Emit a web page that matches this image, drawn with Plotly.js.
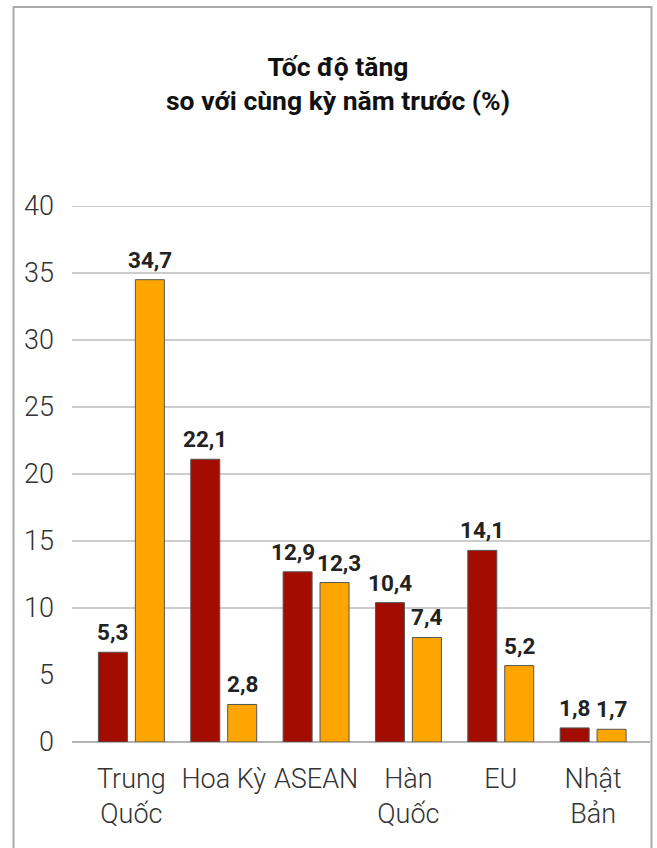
<!DOCTYPE html>
<html>
<head>
<meta charset="utf-8">
<script src="https://cdn.plot.ly/plotly-3.0.1.min.js"></script>
<style>html,body{margin:0;padding:0;background:#fff;}#chart{width:657px;height:848px;}</style>
</head>
<body>
<div id="chart"></div>
<script>
// ---- data ----
var categories = ["Trung Quốc", "Hoa Kỳ", "ASEAN", "Hàn Quốc", "EU", "Nhật Bản"];
var tickLabels = ["Trung<br>Quốc", "Hoa Kỳ", "ASEAN", "Hàn<br>Quốc", "EU", "Nhật<br>Bản"];
var redValues = [6.7, 21.1, 12.7, 10.4, 14.3, 1.05];
var orangeValues = [34.5, 2.8, 11.9, 7.8, 5.7, 0.95];
var redLabels = ["5,3", "22,1", "12,9", "10,4", "14,1", "1,8"];
var orangeLabels = ["34,7", "2,8", "12,3", "7,4", "5,2", "1,7"];
var gridValues = [10, 15, 20, 25, 30, 35, 40];
var yTicks = [0, 5, 10, 15, 20, 25, 30, 35, 40];

// ---- styles ----
var RED = "#A30D00", ORANGE = "#FFA500";
var BAR_W = 0.314, RED_OFF = -0.357, OR_OFF = 0.043;
var redXShift = [0, 0, -5, 0, 0, 0];
var orangeXShift = [0, 0, 4, 0, 0, 0];

var traces = [
  {type: "bar", x: categories, y: redValues, width: BAR_W, offset: RED_OFF,
   marker: {color: RED, line: {color: "#555", width: 1}}, hoverinfo: "none"},
  {type: "bar", x: categories, y: orangeValues, width: BAR_W, offset: OR_OFF,
   marker: {color: ORANGE, line: {color: "#555", width: 1}}, hoverinfo: "none"}
];

var annotations = [];
var labelFont = {family: "Roboto", size: 22.5, weight: 700, color: "#222"};
categories.forEach(function (c, i) {
  annotations.push({x: i + RED_OFF + BAR_W / 2, y: redValues[i], xref: "x", yref: "y",
    text: redLabels[i], showarrow: false, yanchor: "bottom", yshift: 6, xshift: redXShift[i],
    font: labelFont, borderpad: 0});
  annotations.push({x: i + OR_OFF + BAR_W / 2, y: orangeValues[i], xref: "x", yref: "y",
    text: orangeLabels[i], showarrow: false, yanchor: "bottom", yshift: 6, xshift: orangeXShift[i],
    font: labelFont, borderpad: 0});
});

var shapes = gridValues.map(function (v) {
  return {type: "line", xref: "paper", yref: "y", x0: 0, x1: 1, y0: v, y1: v,
          line: {color: "#999999", width: 1}, layer: "below"};
});
// outer frame
shapes.push({type: "rect", xref: "paper", yref: "paper",
  x0: (13.5 - 72) / 578, x1: (651.5 - 72) / 578,
  y0: (742 - 900) / 536, y1: (742 - 7) / 536,
  line: {color: "#aaaaaa", width: 2}, fillcolor: "rgba(0,0,0,0)", layer: "above"});

var layout = {
  width: 657, height: 848,
  margin: {l: 72, r: 7, t: 206, b: 106},
  paper_bgcolor: "#fff", plot_bgcolor: "#fff",
  showlegend: false,
  barmode: "overlay",
  title: {
    text: "<b>Tốc độ tăng<br>so với cùng kỳ năm trước (%)</b>",
    font: {family: "Roboto", size: 26.5, color: "#111"},
    x: 338 / 657, xref: "container", xanchor: "center",
    y: 1 - 76 / 848, yref: "container", yanchor: "middle"
  },
  xaxis: {
    type: "category", range: [-0.643, 5.616],
    tickvals: categories, ticktext: tickLabels,
    showgrid: false, zeroline: false, showline: false, ticks: "",
    ticklabelstandoff: 18,
    tickfont: {family: "Roboto", size: 27, weight: 300, color: "#333"},
    automargin: false
  },
  yaxis: {
    range: [0, 40], tickvals: yTicks, showgrid: false,
    zeroline: true, zerolinecolor: "#b3b3b3", zerolinewidth: 2,
    showline: false, ticks: "", ticklabelstandoff: 17,
    tickfont: {family: "Roboto", size: 27, weight: 300, color: "#333"},
    automargin: false
  },
  shapes: shapes,
  annotations: annotations
};

Plotly.newPlot("chart", traces, layout, {displayModeBar: false, staticPlot: true});
</script>
</body>
</html>
